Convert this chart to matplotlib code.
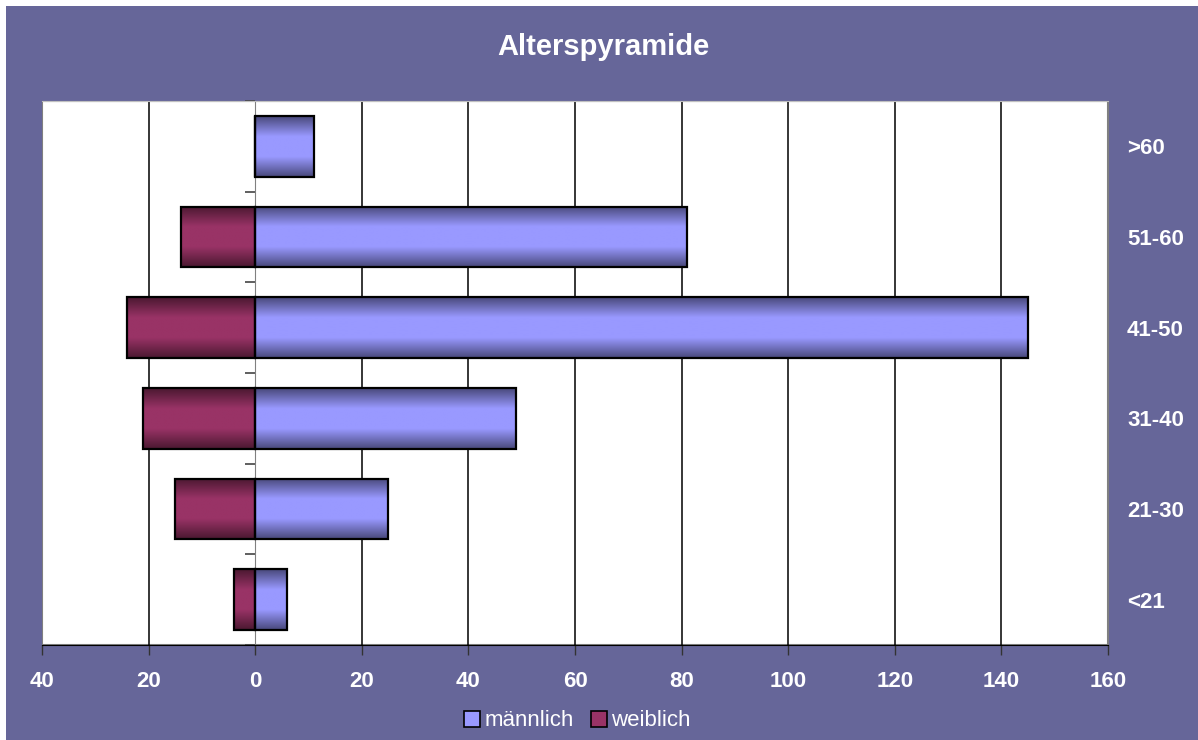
import matplotlib.pyplot as plt
import matplotlib.transforms as mtransforms
import numpy as np
from matplotlib.colors import LinearSegmentedColormap
from matplotlib.patches import Patch, Rectangle
from matplotlib.ticker import FuncFormatter

plt.rcParams["font.family"] = ["Liberation Sans", "DejaVu Sans"]

# data (bottom to top)
age_groups = ["<21", "21-30", "31-40", "41-50", "51-60", ">60"]
maennlich = [6, 25, 49, 145, 81, 11]
weiblich = [4, 15, 21, 24, 14, 0]

BG = "#666699"
MALE_LIGHT, MALE_DARK = "#9999ff", "#48487a"
FEMALE_LIGHT, FEMALE_DARK = "#993366", "#4a1830"

fig = plt.figure(figsize=(11.98, 7.40), dpi=100, facecolor="white")
fig.patches.append(Rectangle((6 / 1198, 0), 1, 1 - 6 / 740, transform=fig.transFigure,
                             facecolor=BG, edgecolor="none", zorder=-1))
ax = fig.add_axes([42 / 1198, 1 - 645 / 740, (1108 - 42) / 1198, (645 - 101) / 740])
ax.set_facecolor("white")

y = np.arange(len(age_groups))
h = 0.667


def gradient_bars(values, sign, light, dark):
    cmap = LinearSegmentedColormap.from_list("g", [dark, light, light, dark])
    grad = np.linspace(0, 1, 256).reshape(-1, 1)
    bars = ax.barh(y, [sign * v for v in values], height=h, color="none",
                   edgecolor="black", linewidth=1.6, zorder=4)
    for p in bars:
        x0, y0 = p.get_x(), p.get_y()
        x1, y1 = x0 + p.get_width(), y0 + p.get_height()
        im = ax.imshow(grad, extent=[min(x0, x1), max(x0, x1), y0, y1], aspect="auto",
                       cmap=cmap, zorder=3, interpolation="bilinear")
        im.set_clip_path(p)
    return bars


gradient_bars(maennlich, 1, MALE_LIGHT, MALE_DARK)
gradient_bars(weiblich, -1, FEMALE_LIGHT, FEMALE_DARK)

ax.set_xlim(-40, 160)
ax.set_ylim(-0.5, len(age_groups) - 0.5)
ax.set_aspect("auto")

xt = np.arange(-40, 161, 20)
ax.set_xticks(xt)
ax.xaxis.set_major_formatter(FuncFormatter(lambda v, pos: f"{abs(int(v))}"))
ax.xaxis.grid(True, color="black", linewidth=1.1, zorder=1)
ax.set_axisbelow(True)
for gl, v in zip(ax.get_xgridlines(), xt):
    if v in (-40, 0, 160):
        gl.set_visible(False)
ax.tick_params(axis="x", length=7, width=1, color="#333333", colors="white",
               labelsize=16, pad=12)
for lbl in ax.get_xticklabels():
    lbl.set_fontweight("bold")

# category labels to the right of the plot area
ax.set_yticks(y, [])
ax.tick_params(axis="y", which="major", left=False, right=False,
               labelleft=False, labelright=False)
trans = mtransforms.blended_transform_factory(ax.transAxes, ax.transData)
for yi, lab in zip(y, age_groups):
    ax.text(1 + 19 / 1066, yi, lab, transform=trans, ha="left", va="center_baseline",
            color="white", fontsize=16, fontweight="bold", clip_on=False)

ax.set_yticks(np.arange(len(age_groups) + 1) - 0.5, minor=True)
ax.tick_params(axis="y", which="minor", left=True, length=7, width=1.2, color="#444444")

ax.spines["left"].set_position(("data", 0))
ax.spines["left"].set_color("#808080")
ax.spines["left"].set_zorder(2)
ax.spines["bottom"].set_color("black")
ax.spines["right"].set_color("#808080")
ax.spines["top"].set_color("#c0c0c0")
# left border of plot area
ax.add_patch(Rectangle((0, 0), 1, 1, transform=ax.transAxes, fill=False,
                       edgecolor="#808080", linewidth=1.5, zorder=0.5))

fig.text(0.504, 1 - 47 / 740, "Alterspyramide", ha="center", va="center",
         color="white", fontsize=21, fontweight="bold")

handles = [Patch(facecolor=MALE_LIGHT, edgecolor="black", linewidth=1.2),
           Patch(facecolor=FEMALE_LIGHT, edgecolor="black", linewidth=1.2)]
leg = fig.legend(handles, ["männlich", "weiblich"], loc="center",
                 bbox_to_anchor=(0.482, 1 - 721 / 740), ncol=2, frameon=False,
                 fontsize=16, handlelength=0.7, handleheight=0.7, handletextpad=0.2,
                 columnspacing=0.8)
for t in leg.get_texts():
    t.set_color("white")

fig.savefig("out.png", dpi=100, facecolor=fig.get_facecolor())
